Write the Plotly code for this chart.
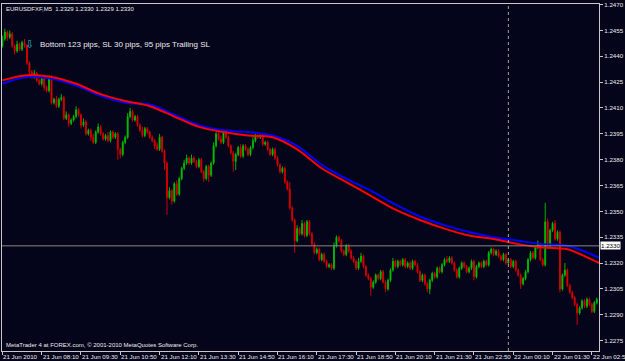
import plotly.graph_objects as go
import pandas as pd

# ---------------- data ----------------
first_open = 1.2446
close = [
    1.2450, 1.2454, 1.2451, 1.2453, 1.2446, 1.2443, 1.2447, 1.2444, 1.2448, 1.2446,
    1.2436, 1.2431, 1.2428, 1.2430, 1.2426, 1.2424, 1.2427, 1.2422, 1.2420, 1.2428,
    1.2413, 1.2415, 1.2411, 1.2415, 1.2416, 1.2404, 1.2406, 1.2401, 1.2403, 1.2405,
    1.2409, 1.2406, 1.2400, 1.2402, 1.2395, 1.2397, 1.2393, 1.2390, 1.2396, 1.2399,
    1.2395, 1.2392, 1.2394, 1.2391, 1.2396, 1.2393, 1.2395, 1.2386, 1.2383, 1.2390,
    1.2393, 1.2405, 1.2408, 1.2403, 1.2405, 1.2400, 1.2397, 1.2394, 1.2398, 1.2396,
    1.2393, 1.2391, 1.2388, 1.2386, 1.2393, 1.2385, 1.2378, 1.2358, 1.2362, 1.2356,
    1.2366, 1.2360, 1.2369, 1.2375, 1.2378, 1.2381, 1.2378, 1.2381, 1.2379, 1.2376,
    1.2380, 1.2373, 1.2369, 1.2376, 1.2371, 1.2378, 1.2388, 1.2395, 1.2392, 1.2390,
    1.2396, 1.2393, 1.2388, 1.2384, 1.2379, 1.2383, 1.2387, 1.2382, 1.2388, 1.2386,
    1.2383, 1.2387, 1.2391, 1.2394, 1.2393, 1.2394, 1.2389, 1.2390, 1.2386, 1.2383,
    1.2386, 1.2381, 1.2377, 1.2373, 1.2375, 1.2367, 1.2363, 1.2352, 1.2345, 1.2333,
    1.2340, 1.2337, 1.2343, 1.2336, 1.2344, 1.2337, 1.2331, 1.2326, 1.2328, 1.2322,
    1.2325, 1.2321, 1.2318, 1.2319, 1.2317, 1.2330, 1.2335, 1.2333, 1.2327, 1.2325,
    1.2330, 1.2327, 1.2323, 1.2321, 1.2317, 1.2321, 1.2324, 1.2318, 1.2313, 1.2311,
    1.2306, 1.2309, 1.2313, 1.2311, 1.2315, 1.2309, 1.2305, 1.2310, 1.2316, 1.2321,
    1.2318, 1.2321, 1.2319, 1.2322, 1.2318, 1.2320, 1.2317, 1.2321, 1.2319, 1.2315,
    1.2310, 1.2313, 1.2308, 1.2305, 1.2310, 1.2314, 1.2312, 1.2317, 1.2315, 1.2319,
    1.2322, 1.2321, 1.2323, 1.2320, 1.2316, 1.2312, 1.2317, 1.2320, 1.2318, 1.2315,
    1.2317, 1.2321, 1.2312, 1.2318, 1.2320, 1.2318, 1.2321, 1.2319, 1.2326, 1.2328,
    1.2325, 1.2327, 1.2324, 1.2322, 1.2325, 1.2320, 1.2322, 1.2318, 1.2321, 1.2316,
    1.2313, 1.2308, 1.2311, 1.2315, 1.2322, 1.2326, 1.2323, 1.2329, 1.2331, 1.2322,
    1.2319, 1.2344, 1.2330, 1.2339, 1.2343, 1.2334, 1.2338, 1.2305, 1.2313, 1.2316,
    1.2307, 1.2303, 1.2300, 1.2296, 1.2291, 1.2294, 1.2298, 1.2295, 1.2299, 1.2296,
    1.2292, 1.2297, 1.2299,
]
# wick lengths in pips above max(open, close) / below min(open, close)
wick_up_pips = [
    2, 2, 1, 2, 1, 1, 2, 1, 1, 2,
    1, 1, 1, 2, 1, 1, 2, 1, 1, 1,
    1, 1, 2, 1, 2, 1, 2, 1, 1, 1,
    2, 1, 1, 2, 1, 1, 1, 2, 1, 2,
    1, 1, 1, 2, 1, 1, 1, 1, 1, 1,
    1, 2, 2, 1, 1, 1, 1, 2, 1, 1,
    1, 1, 1, 2, 2, 1, 1, 1, 2, 1,
    1, 2, 1, 1, 2, 2, 1, 2, 1, 1,
    1, 1, 1, 1, 1, 1, 2, 1, 1, 2,
    1, 1, 1, 1, 1, 1, 1, 2, 1, 1,
    1, 1, 2, 1, 1, 1, 1, 1, 1, 1,
    1, 1, 1, 1, 1, 1, 1, 4, 1, 1,
    2, 1, 2, 1, 1, 1, 1, 1, 1, 1,
    1, 1, 1, 1, 1, 2, 1, 1, 1, 1,
    1, 1, 1, 1, 1, 2, 2, 1, 1, 1,
    1, 1, 1, 1, 1, 1, 1, 1, 1, 2,
    1, 1, 1, 1, 1, 1, 1, 1, 1, 1,
    1, 1, 1, 1, 1, 1, 1, 1, 1, 1,
    1, 2, 1, 1, 1, 1, 1, 1, 1, 1,
    1, 1, 1, 1, 1, 1, 1, 1, 1, 1,
    1, 1, 1, 1, 1, 1, 1, 1, 1, 1,
    1, 1, 1, 1, 1, 1, 1, 1, 2, 1,
    1, 11, 2, 1, 1, 2, 1, 1, 1, 4,
    1, 1, 1, 1, 1, 1, 1, 1, 1, 1,
    1, 1, 1,
]
wick_dn_pips = [
    1, 1, 2, 1, 1, 2, 1, 1, 1, 1,
    1, 2, 1, 1, 1, 1, 1, 2, 1, 1,
    1, 1, 1, 1, 1, 1, 1, 2, 1, 1,
    1, 1, 2, 1, 1, 1, 2, 1, 1, 1,
    1, 1, 1, 1, 1, 1, 1, 6, 2, 1,
    1, 1, 1, 1, 1, 1, 1, 1, 1, 1,
    1, 1, 2, 1, 1, 1, 4, 10, 1, 2,
    1, 1, 1, 1, 1, 1, 1, 1, 1, 1,
    1, 1, 2, 1, 4, 1, 1, 1, 1, 1,
    1, 1, 1, 1, 6, 5, 1, 1, 1, 1,
    1, 1, 1, 1, 1, 1, 1, 1, 1, 1,
    1, 1, 1, 1, 1, 1, 1, 1, 1, 7,
    1, 1, 1, 1, 1, 1, 1, 1, 1, 1,
    1, 1, 1, 1, 1, 1, 1, 1, 1, 1,
    1, 1, 1, 1, 1, 1, 1, 1, 1, 1,
    5, 1, 1, 1, 1, 1, 2, 1, 1, 1,
    1, 1, 1, 1, 1, 1, 1, 1, 1, 1,
    1, 1, 1, 2, 3, 1, 1, 1, 1, 1,
    1, 1, 1, 1, 1, 1, 1, 1, 1, 1,
    1, 1, 2, 1, 1, 1, 1, 1, 1, 1,
    1, 1, 1, 1, 1, 1, 1, 1, 1, 1,
    1, 3, 1, 1, 1, 1, 1, 1, 1, 1,
    1, 1, 1, 1, 1, 1, 1, 2, 1, 1,
    1, 1, 1, 1, 7, 1, 1, 1, 1, 1,
    1, 1, 1,
]
ma_bars = [0, 10, 20, 30, 40, 50, 60, 70, 80, 90, 100, 110, 120, 130, 140, 150,
           160, 170, 180, 190, 200, 210, 220, 230, 240, 243]
ma_blue = [1.2424, 1.2428, 1.2427, 1.2423, 1.2417, 1.2413, 1.2412, 1.2406, 1.2400,
           1.2397, 1.2396, 1.2394, 1.2388, 1.2377, 1.2369, 1.2362, 1.2354, 1.2347,
           1.2342, 1.2338, 1.2335, 1.2333, 1.2331, 1.2330, 1.2325, 1.2323]
ma_red = [1.2426, 1.2429, 1.2428, 1.2424, 1.2418, 1.2414, 1.2411, 1.2405, 1.2399,
          1.2396, 1.2394, 1.2393, 1.2386, 1.2375, 1.2367, 1.2359, 1.2351, 1.2345,
          1.2340, 1.2336, 1.2334, 1.2331, 1.2329, 1.2328, 1.2322, 1.2320]
y_ticks = [1.2470, 1.2455, 1.2440, 1.2425, 1.2410, 1.2395, 1.2380, 1.2365,
           1.2350, 1.2335, 1.2320, 1.2305, 1.2290, 1.2275]
bid = 1.2330
separator_bar = 206
start_time = "2010-06-21 06:50"
title_text = "EURUSDFXF,M5\u00a0\u00a01.2329 1.2330 1.2329 1.2330"
signal_text = "Bottom 123 pips, SL 30 pips, 95 pips Trailing SL"
footer_text = "MetaTrader 4 at FOREX.com, \u00a9 2001-2010 MetaQuotes Software Corp."

# ---------------- derived ----------------
n = len(close)
bars = list(range(n))
opens = [first_open] + close[:-1]
high = [max(o, c) + u * 0.0001 for o, c, u in zip(opens, close, wick_up_pips)]
low = [min(o, c) - d * 0.0001 for o, c, d in zip(opens, close, wick_dn_pips)]
times = pd.date_range(start_time, periods=n, freq="5min")
tick_bars = list(range(0, n, 16))
tick_labels = ["21 Jun 2010" if i == 0 else times[i].strftime("%d %b %H:%M") for i in tick_bars]

W, H = 625, 361
L, R, T, B = 1, 602, 1, 351          # plot area in pixels


def px(x):
    return (x - L) / (R - L)


def py(y):
    return (B - y) / (B - T)


BG = "#04041a"
FG = "#ececec"
AX = "#c8c8c8"
FONT = "Liberation Sans"

fig = go.Figure()
fig.add_trace(go.Candlestick(
    x=bars, open=opens, high=high, low=low, close=close,
    increasing=dict(line=dict(color="#00b400", width=1), fillcolor="#00ff00"),
    decreasing=dict(line=dict(color="#d00000", width=1), fillcolor="#ff0000"),
    whiskerwidth=0, showlegend=False, hoverinfo="skip",
))
fig.add_trace(go.Scatter(x=ma_bars, y=ma_blue, mode="lines",
                         line=dict(color="#0000ff", width=2, shape="spline"),
                         showlegend=False, hoverinfo="skip"))
fig.add_trace(go.Scatter(x=ma_bars, y=ma_red, mode="lines",
                         line=dict(color="#ff0000", width=2, shape="spline"),
                         showlegend=False, hoverinfo="skip"))

shapes = [
    dict(type="line", xref="paper", x0=0, x1=1, yref="y", y0=bid, y1=bid,
         line=dict(color="#8a8a80", width=1)),
    dict(type="line", xref="x", x0=separator_bar, x1=separator_bar, yref="paper", y0=0, y1=1,
         line=dict(color="#a0a0a0", width=1, dash="dot")),
]

annotations = [
    dict(text=title_text, xref="paper", yref="paper", x=px(3), y=py(6),
         xanchor="left", yanchor="middle", showarrow=False,
         font=dict(family=FONT, size=6, color=FG)),
    dict(text="\u21e9", xref="paper", yref="paper", x=px(28.5), y=py(42),
         xanchor="center", yanchor="middle", showarrow=False,
         font=dict(family="DejaVu Sans", size=11, color="#1cb4c8")),
    dict(text=signal_text, xref="paper", yref="paper", x=px(37), y=py(42),
         xanchor="left", yanchor="middle", showarrow=False,
         font=dict(family=FONT, size=8, color=FG)),
    dict(text=footer_text, xref="paper", yref="paper", x=px(3), y=py(345),
         xanchor="left", yanchor="middle", showarrow=False,
         font=dict(family=FONT, size=6, color=FG)),
    dict(text="1.2330", xref="paper", yref="y", x=px(603), y=bid,
         xanchor="left", yanchor="middle", showarrow=False, bgcolor="#ffffff",
         borderpad=0, font=dict(family=FONT, size=6.2, color="#000000")),
]
for b, lab in zip(tick_bars, tick_labels):
    annotations.append(dict(text=lab, xref="x", yref="paper", x=b, y=py(356.5),
                            xanchor="left", yanchor="middle", xshift=-1, showarrow=False,
                            font=dict(family=FONT, size=6.2, color=FG)))

fig.update_layout(
    width=W, height=H,
    margin=dict(l=L, r=W - R, t=T, b=H - B, pad=0),
    paper_bgcolor=BG, plot_bgcolor=BG,
    boxgap=0.45,
    shapes=shapes, annotations=annotations,
    xaxis=dict(range=[-0.16, 242.9], showgrid=False, zeroline=False,
               showline=True, mirror=True, linecolor=AX, linewidth=1,
               tickvals=tick_bars, showticklabels=False,
               ticks="outside", ticklen=3, tickcolor=AX,
               rangeslider=dict(visible=False), fixedrange=True),
    yaxis=dict(range=[1.2269, 1.24703], side="right", showgrid=False, zeroline=False,
               showline=True, mirror=True, linecolor=AX, linewidth=1,
               tickvals=y_ticks, ticktext=[f"{v:.4f}" for v in y_ticks],
               ticks="outside", ticklen=3, tickcolor=AX, ticklabeloverflow="allow",
               tickfont=dict(family=FONT, size=6.2, color=FG), fixedrange=True),
)

fig.write_html("out.html")
